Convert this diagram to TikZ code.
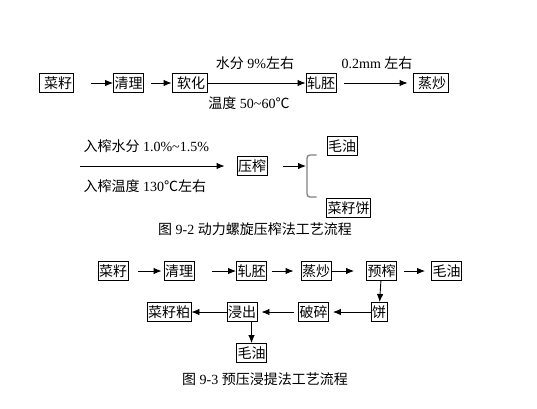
\documentclass[tikz,border=0pt]{standalone}
\usepackage{fontspec}
\setmainfont{Liberation Serif}
\newfontfamily\cjk{Noto Sans CJK SC}
\usetikzlibrary{positioning,arrows.meta}
\tikzset{
	>={Latex[length=8pt,width=6.5pt]}
}

\begin{document}
\begin{tikzpicture}[
x = 1pt, y = -1pt,
every node/.style = {
	font = \fontsize{14}{16}\selectfont
},
stage/.style = {
	draw,
	line width = 0.9pt,
	font = \fontsize{14}{16}\cjk,
	inner xsep = 1pt,
	inner ysep = 1pt,
	minimum height = 19pt
},
flow/.style = {
	->,
	line width = 0.9pt
},
brace/.style = {
	draw = gray,
	line width = 1.3pt,
	rounded corners = 3pt
}
]
\useasboundingbox (0,0) rectangle (537,408);

% figure 9-2, first line
\node (seed_1) [stage, minimum width = 33pt] at (56.5,83) {\ 菜籽};
\node (clean_1) [stage] at (128.5,83) {清理};
\node (soft_1) [stage, minimum width = 35pt] at (189.5,83) {\ 软化};
\node (flake_1) [stage] at (321,83) {轧胚};
\node (cook_1) [stage, minimum width = 35pt] at (430.5,83) {\ 蒸炒};

\draw [flow, shorten <= 17pt] (seed_1) -- (clean_1);
\draw [flow, shorten <= 7pt] (clean_1) -- (soft_1);
\draw [flow] (soft_1) -- (flake_1);
\draw [flow, shorten <= 8pt, shorten >= 5pt] (flake_1) -- (cook_1);

\node (moist_1) at (255,63) {{\cjk 水分} 9\%{\cjk 左右}};
\node (temp_1) at (249,103) {{\cjk 温度} 50\textasciitilde60{\cjk ℃}};
\node (thick_1) at (377,63) {0.2mm {\cjk 左右}};

% figure 9-2, second line
\coordinate (feed_2) at (80,166);
\node (press_2) [stage] at (252,166) {压榨};
\coordinate (split_2) at (306,166);
\node (oil_2) [stage] at (342,146) {毛油};
\node (cake_2) [stage] at (348.5,208) {菜籽饼};

\draw [flow, shorten >= 12pt] (feed_2) -- (press_2);
\draw [flow, shorten <= 16pt] (press_2) -- (split_2);
\draw [brace] (316.5,155) -- (307,155) -- (307,197) -- (316.5,197);

\node (moist_2) [anchor = west] at (80,146) {{\cjk 入榨水分} 1.0\%\textasciitilde1.5\%};
\node (temp_2) [anchor = west] at (80,186) {{\cjk 入榨温度} 130{\cjk ℃左右}};
\node (title_2) at (255,229) {{\cjk 图} 9-2 {\cjk 动力螺旋压榨法工艺流程}};

% figure 9-3
\node (seed_3) [stage] at (113,271) {菜籽};
\node (clean_3) [stage] at (179,271) {清理};
\node (flake_3) [stage] at (251.5,271) {轧胚};
\node (cook_3) [stage] at (316,271) {蒸炒};
\node (prepress_3) [stage] at (381.5,271) {预榨};
\node (oil_3) [stage] at (446.5,271) {毛油};
\node (cake_3) [stage] at (379,312) {饼};
\node (crush_3) [stage] at (313.5,312) {破碎};
\node (extract_3) [stage] at (242,312) {浸出};
\node (meal_3) [stage] at (169,312) {菜籽粕};
\node (crude_3) [stage] at (251.5,353) {毛油};

\draw [flow, shorten <= 10pt, shorten >= 2pt] (seed_3) -- (clean_3);
\draw [flow, shorten <= 18pt] (clean_3) -- (flake_3);
\draw [flow, shorten <= 5pt, shorten >= 7pt] (flake_3) -- (cook_3);
\draw [flow, shorten >= 12pt] (cook_3) -- (prepress_3);
\draw [flow, shorten <= 7pt, shorten >= 6pt] (prepress_3) -- (oil_3);
\draw [flow] (prepress_3) -- (cake_3);
\draw [flow, shorten >= 4pt] (cake_3) -- (crush_3);
\draw [flow, shorten <= 4pt, shorten >= 4pt] (crush_3) -- (extract_3);
\draw [flow] (extract_3) -- (meal_3);
\draw [flow] (extract_3.south -| crude_3) -- (crude_3);

\node (title_3) at (265,379) {{\cjk 图} 9-3 {\cjk 预压浸提法工艺流程}};
\end{tikzpicture}
\end{document}
